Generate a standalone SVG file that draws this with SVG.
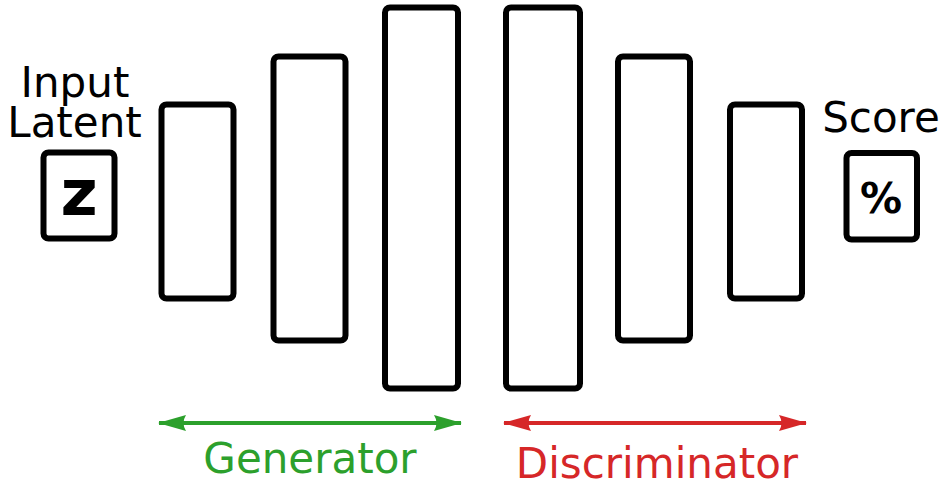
<svg xmlns="http://www.w3.org/2000/svg" width="940" height="480" viewBox="0 0 940 480">
  <style>
    .blk { fill: #ffffff; stroke: #000000; stroke-width: 6; }
    .lbl { font-family: "DejaVu Sans", sans-serif; font-size: 42px; text-anchor: middle; fill: #000000; }
    .sym { font-family: "DejaVu Sans", sans-serif; font-weight: bold; text-anchor: middle; fill: #000000; }
    .gen { stroke: #2ca02c; stroke-width: 4; fill: none; }
    .dis { stroke: #d62728; stroke-width: 4; fill: none; }
  </style>
  <defs>
    <marker id="headG" viewBox="0 0 28 18" refX="27" refY="9" markerUnits="userSpaceOnUse" markerWidth="28" markerHeight="18" orient="auto-start-reverse">
      <path d="M28 9 L0 1 Q5 9 0 17 Z" fill="#2ca02c"/>
    </marker>
    <marker id="headR" viewBox="0 0 28 18" refX="27" refY="9" markerUnits="userSpaceOnUse" markerWidth="28" markerHeight="18" orient="auto-start-reverse">
      <path d="M28 9 L0 1 Q5 9 0 17 Z" fill="#d62728"/>
    </marker>
  </defs>

  <!-- latent input -->
  <g id="latent">
    <text class="lbl" x="75" y="97">Input</text>
    <text class="lbl" x="74.5" y="137">Latent</text>
    <rect class="blk" x="43.5" y="152.5" width="71" height="86" rx="5"/>
    <text class="sym" x="79" y="215" font-size="64">z</text>
  </g>

  <!-- generator layers -->
  <g id="gen1"><rect class="blk" x="161.5" y="104.5" width="72" height="194" rx="5"/></g>
  <g id="gen2"><rect class="blk" x="273.5" y="56.5" width="72" height="284" rx="5"/></g>
  <g id="gen3"><rect class="blk" x="385" y="7.5" width="73" height="381" rx="5"/></g>

  <!-- discriminator layers -->
  <g id="dis1"><rect class="blk" x="506" y="7.5" width="74" height="381" rx="5"/></g>
  <g id="dis2"><rect class="blk" x="618" y="56.5" width="72" height="284" rx="5"/></g>
  <g id="dis3"><rect class="blk" x="730" y="104.5" width="72" height="194" rx="5"/></g>

  <!-- score output -->
  <g id="score">
    <text class="lbl" x="881" y="132">Score</text>
    <rect class="blk" x="846.5" y="153" width="70.5" height="86.5" rx="5"/>
    <text class="sym" x="881" y="213" font-size="42">%</text>
  </g>

  <!-- range arrows -->
  <g id="connectors">
    <line class="gen" x1="159" y1="423" x2="461" y2="423" marker-start="url(#headG)" marker-end="url(#headG)"/>
    <line class="dis" x1="504" y1="423" x2="806" y2="423" marker-start="url(#headR)" marker-end="url(#headR)"/>
  </g>

  <g id="labels">
    <text class="lbl" x="310" y="473" style="fill:#2ca02c">Generator</text>
    <text class="lbl" x="657" y="478" style="fill:#d62728">Discriminator</text>
  </g>
</svg>
